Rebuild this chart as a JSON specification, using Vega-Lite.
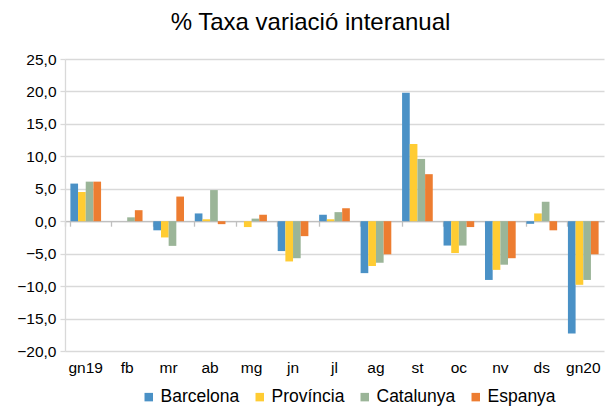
{
  "$schema": "https://vega.github.io/schema/vega-lite/v6.json",
  "width": 539,
  "height": 292,
  "autosize": {"type": "none"},
  "padding": {"left": 65, "top": 59, "right": 11, "bottom": 56},
  "background": "white",
  "config": {
    "font": "Liberation Sans",
    "view": {"stroke": null}
  },
  "title": {
    "text": "% Taxa variació interanual",
    "fontSize": 24,
    "font": "Liberation Sans",
    "fontWeight": "normal",
    "color": "#000000",
    "anchor": "middle",
    "dx": -24,
    "offset": 17
  },
  "data": {
    "values": [
      {"mes": "gn19", "serie": "Barcelona", "valor": 5.8},
      {"mes": "gn19", "serie": "Província", "valor": 4.5},
      {"mes": "gn19", "serie": "Catalunya", "valor": 6.1},
      {"mes": "gn19", "serie": "Espanya", "valor": 6.1},
      {"mes": "fb", "serie": "Barcelona", "valor": 0.0},
      {"mes": "fb", "serie": "Província", "valor": 0.0},
      {"mes": "fb", "serie": "Catalunya", "valor": 0.6},
      {"mes": "fb", "serie": "Espanya", "valor": 1.7},
      {"mes": "mr", "serie": "Barcelona", "valor": -1.4},
      {"mes": "mr", "serie": "Província", "valor": -2.5},
      {"mes": "mr", "serie": "Catalunya", "valor": -3.8},
      {"mes": "mr", "serie": "Espanya", "valor": 3.8},
      {"mes": "ab", "serie": "Barcelona", "valor": 1.2},
      {"mes": "ab", "serie": "Província", "valor": 0.3},
      {"mes": "ab", "serie": "Catalunya", "valor": 4.8},
      {"mes": "ab", "serie": "Espanya", "valor": -0.45},
      {"mes": "mg", "serie": "Barcelona", "valor": 0.0},
      {"mes": "mg", "serie": "Província", "valor": -0.9},
      {"mes": "mg", "serie": "Catalunya", "valor": 0.4},
      {"mes": "mg", "serie": "Espanya", "valor": 1.0},
      {"mes": "jn", "serie": "Barcelona", "valor": -4.6},
      {"mes": "jn", "serie": "Província", "valor": -6.2},
      {"mes": "jn", "serie": "Catalunya", "valor": -5.7},
      {"mes": "jn", "serie": "Espanya", "valor": -2.3},
      {"mes": "jl", "serie": "Barcelona", "valor": 1.0},
      {"mes": "jl", "serie": "Província", "valor": 0.3},
      {"mes": "jl", "serie": "Catalunya", "valor": 1.4},
      {"mes": "jl", "serie": "Espanya", "valor": 2.0},
      {"mes": "ag", "serie": "Barcelona", "valor": -8.0},
      {"mes": "ag", "serie": "Província", "valor": -6.9},
      {"mes": "ag", "serie": "Catalunya", "valor": -6.4},
      {"mes": "ag", "serie": "Espanya", "valor": -5.1},
      {"mes": "st", "serie": "Barcelona", "valor": 19.8},
      {"mes": "st", "serie": "Província", "valor": 11.9},
      {"mes": "st", "serie": "Catalunya", "valor": 9.6},
      {"mes": "st", "serie": "Espanya", "valor": 7.25},
      {"mes": "oc", "serie": "Barcelona", "valor": -3.75},
      {"mes": "oc", "serie": "Província", "valor": -4.9},
      {"mes": "oc", "serie": "Catalunya", "valor": -3.75},
      {"mes": "oc", "serie": "Espanya", "valor": -0.9},
      {"mes": "nv", "serie": "Barcelona", "valor": -9.05},
      {"mes": "nv", "serie": "Província", "valor": -7.5},
      {"mes": "nv", "serie": "Catalunya", "valor": -6.7},
      {"mes": "nv", "serie": "Espanya", "valor": -5.7},
      {"mes": "ds", "serie": "Barcelona", "valor": -0.4},
      {"mes": "ds", "serie": "Província", "valor": 1.2},
      {"mes": "ds", "serie": "Catalunya", "valor": 3.0},
      {"mes": "ds", "serie": "Espanya", "valor": -1.4},
      {"mes": "gn20", "serie": "Barcelona", "valor": -17.3},
      {"mes": "gn20", "serie": "Província", "valor": -9.8},
      {"mes": "gn20", "serie": "Catalunya", "valor": -9.05},
      {"mes": "gn20", "serie": "Espanya", "valor": -5.1}
    ]
  },
  "layer": [
    {
      "mark": {"type": "bar"},
      "encoding": {
        "x": {
          "field": "mes",
          "type": "nominal",
          "sort": null,
          "scale": {"paddingInner": 0.26, "paddingOuter": 0.13},
          "axis": {
            "title": null,
            "labelAngle": 0,
            "domain": false,
            "ticks": false,
            "labelFontSize": 15.5,
            "labelColor": "#000000",
            "labelPadding": 9,
            "labelFont": "Liberation Sans"
          }
        },
        "xOffset": {
          "field": "serie",
          "type": "nominal",
          "sort": ["Barcelona", "Província", "Catalunya", "Espanya"]
        },
        "y": {
          "field": "valor",
          "type": "quantitative",
          "scale": {"domain": [-20, 25], "nice": false, "zero": false},
          "axis": {
            "title": null,
            "values": [-20, -15, -10, -5, 0, 5, 10, 15, 20, 25],
            "labelOverlap": false,
            "labelExpr": "replace(format(datum.value, '.1f'), '.', ',')",
            "labelFontSize": 15.5,
            "labelColor": "#000000",
            "labelFont": "Liberation Sans",
            "labelPadding": 4,
            "grid": true,
            "gridColor": "#D9D9D9",
            "gridWidth": 1.3,
            "domain": true,
            "domainColor": "#D9D9D9",
            "domainWidth": 1.3,
            "ticks": true,
            "tickColor": "#D9D9D9",
            "tickSize": 5,
            "tickWidth": 1.3
          }
        },
        "color": {
          "field": "serie",
          "type": "nominal",
          "sort": ["Barcelona", "Província", "Catalunya", "Espanya"],
          "scale": {
            "domain": ["Barcelona", "Província", "Catalunya", "Espanya"],
            "range": ["#4A91C6", "#FFCC33", "#9BB598", "#ED7D31"]
          },
          "legend": {
            "title": null,
            "orient": "none",
            "direction": "horizontal",
            "legendX": 75,
            "legendY": 329,
            "padding": 0,
            "symbolType": "square",
            "symbolSize": 72,
            "symbolStrokeWidth": 0,
            "labelFontSize": 17.5,
            "labelFont": "Liberation Sans",
            "labelColor": "#000000",
            "labelOffset": 3,
            "columnPadding": 11
          }
        }
      }
    },
    {
      "mark": {"type": "rule", "opacity": 0},
      "encoding": {
        "x": {
          "field": "mes",
          "type": "nominal",
          "sort": null,
          "axis": {
            "orient": "bottom",
            "offset": -129.8,
            "labels": false,
            "title": null,
            "grid": false,
            "domain": true,
            "domainColor": "#BFBFBF",
            "domainWidth": 1.3,
            "ticks": true,
            "tickColor": "#BFBFBF",
            "tickWidth": 1.3,
            "tickSize": 5,
            "bandPosition": 0,
            "tickExtra": true
          }
        }
      }
    }
  ],
  "resolve": {"axis": {"x": "independent"}}
}
